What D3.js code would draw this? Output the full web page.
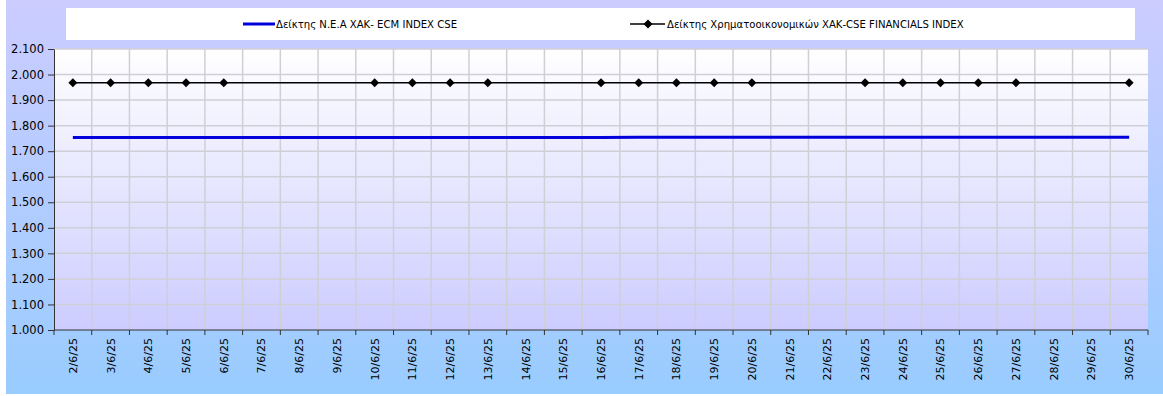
<!DOCTYPE html>
<html><head><meta charset="utf-8">
<script src="https://cdn.jsdelivr.net/npm/d3@7"></script>
<style>html,body{margin:0;padding:0;background:#fff;overflow:hidden}</style>
</head><body>
<svg id="c" width="1163" height="396"></svg>
<script>
const dates = ["2/6/25","3/6/25","4/6/25","5/6/25","6/6/25","7/6/25","8/6/25","9/6/25","10/6/25","11/6/25","12/6/25","13/6/25","14/6/25","15/6/25","16/6/25","17/6/25","18/6/25","19/6/25","20/6/25","21/6/25","22/6/25","23/6/25","24/6/25","25/6/25","26/6/25","27/6/25","28/6/25","29/6/25","30/6/25"];
const ecmValues = [1754,1754,1754,1754,1754,1754,1754,1754,1754,1754,1754,1754,1754,1754,1754,1755,1755,1755,1755,1755,1755,1755,1755,1755,1755,1755,1755,1755,1755];
const finValues = [1968,1968,1968,1968,1968,1968,1968,1968,1968,1968,1968,1968,1968,1968,1968,1968,1968,1968,1968,1968,1968,1968,1968,1968,1968,1968,1968,1968,1968];
const finMarkers = [1,1,1,1,1,0,0,0,1,1,1,1,0,0,1,1,1,1,1,0,0,1,1,1,1,1,0,0,1];
const yTicks = [1000,1100,1200,1300,1400,1500,1600,1700,1800,1900,2000,2100];
const seriesNames = ["Δείκτης Ν.Ε.Α ΧΑΚ- ECM INDEX CSE","Δείκτης Χρηματοοικονομικών ΧΑΚ-CSE FINANCIALS INDEX"];

const svg = d3.select("#c");
const defs = svg.append("defs");
const g1 = defs.append("linearGradient").attr("id","outer").attr("x1",0).attr("y1",0).attr("x2",0).attr("y2",1);
g1.append("stop").attr("offset","0%").attr("stop-color","#ccccff");
g1.append("stop").attr("offset","100%").attr("stop-color","#99ccff");
const g2 = defs.append("linearGradient").attr("id","plotbg").attr("x1",0).attr("y1",0).attr("x2",0).attr("y2",1);
g2.append("stop").attr("offset","0%").attr("stop-color","#ffffff");
g2.append("stop").attr("offset","100%").attr("stop-color","#ccccff");

svg.append("rect").attr("x",6).attr("y",0).attr("width",1157).attr("height",394).attr("fill","url(#outer)");

const L=54, R=1148, T=49, B=330;
const x = d3.scaleBand().domain(dates).range([L,R]).padding(0);
const y = d3.scaleLinear().domain([1000,2100]).range([B,T]);

svg.append("rect").attr("x",L).attr("y",T).attr("width",R-L).attr("height",B-T).attr("fill","url(#plotbg)");

// legend
svg.append("rect").attr("x",66).attr("y",8).attr("width",1069).attr("height",32).attr("fill","#fff");

// gridlines
const bounds = dates.map(d=>x(d)).concat([R]);
svg.append("g").selectAll("line.v").data(bounds.slice(1,-1)).join("line")
  .attr("x1",d=>d).attr("x2",d=>d).attr("y1",T).attr("y2",B)
  .attr("stroke","#cfcfd6").attr("stroke-width",1.5);
svg.append("g").selectAll("line.h").data(yTicks.slice(1)).join("line")
  .attr("x1",L).attr("x2",R).attr("y1",d=>y(d)).attr("y2",d=>y(d))
  .attr("stroke","#cfcfd6").attr("stroke-width",1.5);

// axes
const loc = d3.formatLocale({decimal:",",thousands:".",grouping:[3],currency:["","€"]});
const fmt = loc.format(",.0f");
const ya = svg.append("g").attr("transform",`translate(${L},0)`)
  .call(d3.axisLeft(y).tickValues(yTicks).tickFormat(fmt).tickSize(6).tickSizeOuter(0));
ya.select(".domain").attr("stroke","#333");
ya.selectAll(".tick line").attr("stroke","#333");
ya.selectAll("text").attr("font-family","DejaVu Sans").attr("font-size","11.5px").attr("fill","#000").attr("x",-10);

svg.append("line").attr("x1",L).attr("x2",R).attr("y1",B).attr("y2",B).attr("stroke","#333");
svg.append("g").selectAll("line").data(bounds).join("line")
  .attr("x1",d=>d).attr("x2",d=>d).attr("y1",B).attr("y2",B+5).attr("stroke","#333");
svg.append("g").selectAll("text").data(dates).join("text")
  .attr("transform",d=>`translate(${x(d)+x.bandwidth()/2},${B+8}) rotate(-90)`)
  .attr("text-anchor","end").attr("dy","0.36em")
  .attr("font-family","DejaVu Sans").attr("font-size","11px").attr("fill","#000")
  .text(d=>d);

// series
const cx = d=>x(d)+x.bandwidth()/2;
const line = d3.line().x((v,i)=>cx(dates[i])).y(v=>y(v));
svg.append("path").datum(finValues).attr("d",line).attr("fill","none").attr("stroke","#000").attr("stroke-width",1.6);
svg.append("path").datum(ecmValues).attr("d",line).attr("fill","none").attr("stroke","#0000dd").attr("stroke-width",3);
const diamond = d3.symbol().type(d3.symbolSquare).size(40);
svg.append("g").selectAll("path").data(dates.filter((d,i)=>finMarkers[i])).join("path")
  .attr("d",diamond)
  .attr("transform",d=>{const i=dates.indexOf(d);return `translate(${cx(d)},${y(finValues[i])}) rotate(45)`;})
  .attr("fill","#000");

// legend items
svg.append("line").attr("x1",243).attr("x2",275).attr("y1",24).attr("y2",24).attr("stroke","#0000dd").attr("stroke-width",3);
svg.append("text").attr("x",276).attr("y",27.5).attr("font-family","DejaVu Sans").attr("font-size","10.1px").attr("fill","#000").text(seriesNames[0]);
svg.append("line").attr("x1",630).attr("x2",665).attr("y1",24).attr("y2",24).attr("stroke","#000").attr("stroke-width",1.6);
svg.append("path").attr("d",diamond).attr("transform","translate(648,24) rotate(45)").attr("fill","#000");
svg.append("text").attr("x",667).attr("y",27.5).attr("font-family","DejaVu Sans").attr("font-size","10.1px").attr("fill","#000").text(seriesNames[1]);
</script>
</body></html>
